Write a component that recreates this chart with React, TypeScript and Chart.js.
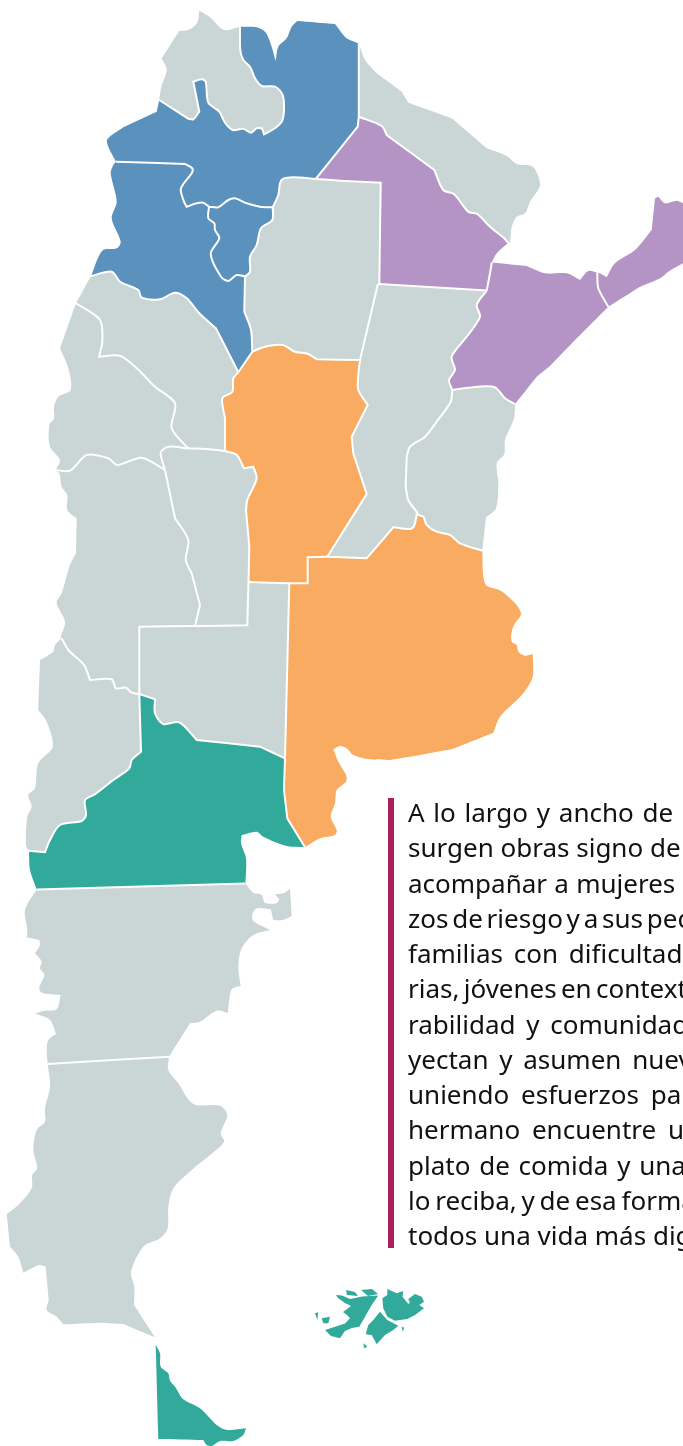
import React, { useEffect, useRef } from "react";
import { Chart, registerables } from "chart.js";

Chart.register(...registerables);

type P = [number, number];
const rev = (s: P[]): P[] => [...s].reverse();

const JUJUY_WEST: P[] = [[159.3,100],[161.3,86.7],[166.7,70],[161.7,58.3],[179.3,30.7],[188.3,30],[197.3,22.7],[199.3,10.7],[210,17.3],[224,30],[240,26.7]];
const JUJUY_SALTA: P[] = [[240,26.7],[240.3,50],[243.3,60],[250,66.7],[255,78.3],[261.7,86],[275,86.7],[282.7,95],[284,110],[281.7,121.7],[273.3,129.3],[264,134.3],[262,128.3],[256.7,128.3],[250.7,132.7],[243.3,128.7],[232.7,130],[225,122.7],[219.3,111.7],[208.3,102.7],[205.7,81.7],[201.7,79.3],[193.3,81.7],[199.3,111.7],[193.3,119.3],[188.3,118.7],[159.3,100]];
const SALTA_TOP: P[] = [[240,26.7],[256.7,27.3],[265,31.7],[270,41.7],[275.7,61],[278.3,46.7],[286.7,38.3],[291.7,26.7],[297.3,21],[335,24],[346.7,38.3],[358.5,43.3]];
const SALTA_FORMOSA: P[] = [[358.8,43.3],[358.8,80],[358.8,116.7]];
const SALTA_CHACO: P[] = [[358.8,116.7],[357.7,126.7],[315.7,179]];
const SALTA_SANTIAGO: P[] = [[315.7,179],[293.3,177.3],[282.7,179],[280,183.3],[278.3,195],[272.7,207.3]];
const SALTA_TUCUMAN: P[] = [[272.7,207.3],[260,206.7],[246.7,203.3],[235,198.3],[228.3,200],[218.3,207.3],[209,206.7]];
const SALTA_CATAMARCA: P[] = [[209,206.7],[203.3,202.7],[196.7,203.3],[186.7,206.7],[184,201.7],[180.7,190],[183.3,184],[191.7,173.3],[192.3,168.3],[185,164],[116,161.7]];
const SALTA_WEST: P[] = [[116,161.7],[108.3,146.7],[107.3,139.3],[123.3,127.3],[156.7,111.7],[159.3,100]];
const CATAMARCA_WEST: P[] = [[116,161.7],[113.3,165],[110.7,173.3],[116.7,201.7],[111.7,218.3],[120.7,241.7],[116.7,248.3],[102.3,250.7],[91,276]];
const CATAMARCA_RIOJA: P[] = [[91,276],[111.7,271.7],[120,281.7],[138.3,290],[141.7,297.7],[160,299.3],[175,292.7],[186.7,298.3],[199.3,313.3],[216,328.3],[238.3,372.3]];
const CORDOBA_CATAMARCA: P[] = [[238.3,372.3],[252.3,351.7]];
const CATAMARCA_SANTIAGO: P[] = [[252.3,351.7],[251,330],[244.3,311.7],[245,276.5]];
const CATAMARCA_TUCUMAN: P[] = [[245,276.5],[236.7,275],[228.3,281],[221,276.7],[210.7,254],[219.3,238.3],[215,230],[214.3,223.3],[208.3,218.3],[209,206.7]];
const TUCUMAN_SANTIAGO: P[] = [[245,276.5],[250,271.7],[250,256.7],[256.7,245],[261,228.3],[272.3,220],[272.7,207.3]];
const SANTIAGO_CHACO: P[] = [[315.7,179],[340,180.7],[380.7,182.7],[379.3,284]];
const SANTIAGO_SANTAFE: P[] = [[379.3,284],[377.7,285],[360,360]];
const SANTIAGO_CORDOBA: P[] = [[360,360],[316.7,359.3],[308.3,354],[295,351.7],[282.7,345],[265,346.7],[252.3,351.7]];
const CHACO_FORMOSA: P[] = [[358.8,116.7],[381.7,126],[386.7,135],[434.3,170],[443.3,190],[454,194],[468.3,211.7],[477.3,214],[490,226.7],[505,239],[508,243]];
const FORMOSA_OUTER: P[] = [[358.8,43.3],[365,60],[376.7,73.3],[401.7,91.7],[408.3,102.7],[451.7,118.3],[486.7,148.3],[506.7,156],[516.7,164],[532.7,166.7],[540,185],[530,201.7],[525,213.3],[516.7,216.7],[511.7,226.7],[510,241.7]];
const CHACO_OUTER: P[] = [[508,243],[496.7,253.3],[491.7,262.7]];
const CHACO_CORRIENTES: P[] = [[491.7,262.7],[490,273.3],[486.7,290.5]];
const CHACO_SANTAFE: P[] = [[486.7,290.5],[379.3,284]];
const CORRIENTES_NORTH: P[] = [[491.7,262.7],[495,262.7],[526.7,266],[545,273.3],[566.7,273.3],[580,280],[588.3,271],[597.3,272.7]];
const CORRIENTES_MISIONES: P[] = [[597.3,272.7],[598.3,288.3],[608.3,306.7]];
const CORRIENTES_COAST: P[] = [[608.3,306.7],[576.7,338.3],[550,366],[536.7,376.7],[515,404]];
const CORRIENTES_ENTRERIOS: P[] = [[515,404],[505,398.3],[495,387.3],[478.3,386.7],[452.3,390]];
const CORRIENTES_SANTAFE: P[] = [[452.3,390],[449,380],[455,370],[451.7,356.7],[466.7,336.7],[480,316.7],[476.7,305],[486.7,290.5]];
const MISIONES_OUTER: P[] = [[597.3,272.7],[600,273.3],[606.7,277.3],[615,263.3],[635,250],[651.7,230],[655,198.3],[658.3,196.7],[665,203.3],[676.7,200.7],[683,203.3],[683,263.3],[668.3,271.7],[660,278.3],[640,286.7],[608.3,306.7]];
const SANTAFE_ENTRERIOS: P[] = [[452.3,390],[450.7,401.7],[436.7,421.7],[425,436.7],[410,446.7],[406.7,456.7],[405.7,486.7],[408.3,500],[416.7,511.7]];
const SANTAFE_BA: P[] = [[416.7,511.7],[416.7,515],[414,526],[410,529],[393.3,527.3],[366.7,558.3],[327.3,556.7]];
const SANTAFE_CORDOBA: P[] = [[327.3,556.7],[366.7,494],[353.3,453.3],[351.7,436.7],[367.7,405],[358.3,390],[358.3,375],[360,360]];
const ENTRERIOS_COAST: P[] = [[515,404],[514,418.3],[505,440],[504.3,454],[496.7,463.3],[498.3,483.3],[496,508.3],[486,517.3],[482.3,550.7]];
const ENTRERIOS_BA: P[] = [[482.3,550.7],[460,543.3],[450,535],[436.7,531.7],[426.7,525],[423.3,516.7],[418.3,515],[416.7,511.7]];
const CORDOBA_BA: P[] = [[327.3,556.7],[307.7,557.3],[307.7,583.3],[289.3,583.3]];
const CORDOBA_PAMPA: P[] = [[289.3,583.3],[248.5,582]];
const SANLUIS_CORDOBA: P[] = [[225,451],[236.7,455],[244,468.3],[253.3,466.7],[256.7,478.3],[247.3,500],[246,510],[249.3,546.7],[248.5,582]];
const RIOJA_CORDOBA: P[] = [[238.3,372.3],[233.3,378.3],[232.3,391.7],[222.3,398.3],[225,418.3],[225,451]];
const RIOJA_SANLUIS: P[] = [[225,451],[206.7,449],[188.3,448.5]];
const RIOJA_SANJUAN: P[] = [[76,303.3],[100,320],[102.3,341.7],[99,356.7],[120,355.7],[136.7,368.3],[155,386.7],[175,403.3],[171.7,428.3],[188.3,448.5]];
const RIOJA_WEST: P[] = [[76,303.3],[91,276]];
const SANJUAN_OUTER: P[] = [[76,303.3],[70,320],[60,348.3],[68.3,368.3],[70.7,390],[58.3,396.7],[54,406.7],[54,418.3],[49.3,425],[50,446.7],[60,460],[55.7,470]];
const SANJUAN_MENDOZA: P[] = [[55.7,470],[70,470.7],[86.7,455],[108.3,458.3],[117.3,465],[141.7,457.7],[165,470]];
const SANJUAN_SANLUIS: P[] = [[165,470],[160.7,452.7],[168.3,446.7],[188.3,448.5]];
const SANLUIS_PAMPA: P[] = [[248.5,582],[247.3,625.3],[195,626]];
const SANLUIS_MENDOZA: P[] = [[195,626],[200,605],[191.7,573.3],[185.7,560],[188.3,540],[175,518.3],[165,470]];
const PAMPA_BA: P[] = [[289.3,583.3],[285,758.3]];
const PAMPA_RIONEGRO: P[] = [[139.3,694],[155,699.3],[155,713.3],[163.3,724],[179.3,722.3],[196.7,740],[260,746.7],[285,758.3]];
const PAMPA_MENDOZA: P[] = [[139.3,694],[139.3,626.7],[195,626]];
const MENDOZA_OUTER: P[] = [[55.7,470],[59.3,473.3],[61.7,486.7],[67.3,495],[67.3,510],[76.7,518.3],[76,553.3],[70,565],[61.7,593.3],[56.7,602.7],[65,621.7],[60.7,637.3],[61.7,638.3]];
const MENDOZA_NEUQUEN: P[] = [[61.7,638.3],[68.3,650],[84,665],[90,680],[111.7,679.3],[116,688.3],[126,687.7],[131.7,692.7],[139.3,694]];
const NEUQUEN_OUTER: P[] = [[61.7,638.3],[55,645],[53.3,651.7],[40,660],[38.3,710],[46.7,721.7],[52.7,746.7],[38.3,763.3],[35,788.3],[28.3,795],[31.7,806.7],[27.3,816.7],[26,845],[29,850.7]];
const NEUQUEN_RIONEGRO: P[] = [[29,850.7],[45,852.3],[50,840],[60,825],[81.7,821],[86,815],[85,800],[95,794.3],[113.3,780],[129.3,768.3],[131.7,760],[141,751.7],[139.3,694]];
const BA_RIONEGRO: P[] = [[285,758.3],[284,790],[287.3,818.3],[305,847.3]];
const BA_COAST: P[] = [[305,847.3],[320,838.3],[335,835],[336.7,830],[330.7,816.7],[335,803.3],[336.7,790],[346,781.7],[346,775],[338.3,761.7],[333.3,749.3],[340,746],[346.7,748.3],[353.3,755],[370,759.3],[390,760],[420,755],[451.7,749.3],[493.3,732.7],[500,716.7],[513.3,703.3],[523.3,693.3],[532.7,676.7],[532.7,654],[525,655.7],[518.3,651.7],[516.7,645],[511.7,641.7],[511.7,631.7],[515,623.3],[521,614],[515.7,604],[500.7,590.7],[486.7,585.7],[483.3,576.7],[482.3,550.7]];
const RIONEGRO_COAST: P[] = [[305,847.3],[286.7,846],[263.3,836.7],[256.7,831.7],[241.7,835],[241,843.3],[246,858.3],[245.5,883.5]];
const RIONEGRO_CHUBUT: P[] = [[36.7,889.5],[245.5,883.5]];
const RIONEGRO_WEST: P[] = [[36.7,889.5],[30,870],[29,850.7]];
const CHUBUT_EAST: P[] = [[245.5,883.5],[253.3,892.7],[261.7,895],[265,902.7],[276.7,903.3],[279.3,899.3],[275,894.3],[285,892.7],[290,888.3],[291.7,916],[282.7,920],[273.3,920],[270.7,909.3],[256.7,908.3],[252.3,915],[253.3,921],[270,930],[253.3,935],[241.7,948.3],[238.3,966.7],[240.7,986],[231.7,989.3],[227.7,1012.7],[216.7,1010.7],[200,1021.7],[190,1023.3],[169,1056.7]];
const CHUBUT_SANTACRUZ: P[] = [[169,1056.7],[47.7,1064]];
const CHUBUT_WEST: P[] = [[47.7,1064],[46.7,1050],[48.3,1040],[56,1034],[50,1020],[35,1013.3],[45,1010.7],[56.7,1009.3],[60.7,995],[41.7,992.7],[39.3,987.3],[44.3,975],[40,968.3],[41.7,961.7],[35,953.3],[40,945],[39.3,940],[26.7,937.3],[27.3,930],[25,910],[36.7,889.5]];
const SANTACRUZ_OUTER: P[] = [[169,1056.7],[168.3,1070],[178.3,1083.3],[193.3,1104],[220,1105.7],[227.3,1115],[220.7,1133.3],[224,1141.7],[210,1155],[191.7,1170],[173.3,1188.3],[168.3,1206.7],[167.7,1228.3],[160,1238.3],[143.3,1246.7],[131,1271.7],[134.3,1286.7],[134,1305],[155,1337.3],[123.3,1324],[100,1322.7],[63.3,1324.3],[56.7,1316.7],[46.7,1310],[48.7,1300],[45.7,1266.7],[39.3,1265],[23.3,1272.7],[18.3,1256.7],[10,1246.7],[6.7,1214],[18.3,1205],[31.7,1188.3],[32.3,1175],[37.3,1168.3],[33.3,1150],[36.7,1130],[45,1121.7],[45,1108.3],[50,1086.7],[47.7,1064]];
const TIERRA_DEL_FUEGO: P[] = [[155.7,1345],[160,1353.3],[160.7,1366.7],[168.3,1373.3],[170,1380.7],[175,1386.7],[183.3,1399.3],[200,1408.3],[216.7,1425],[226.7,1430],[246,1428.3],[243.3,1435],[233.3,1441],[220,1441],[211.7,1446],[206.7,1445],[203.3,1440],[158.3,1439]];
const MALVINAS_WEST: P[] = [[336,1295],[342,1295.5],[350,1299],[355,1298],[362,1296.5],[378.3,1295.5],[371.7,1305],[365,1316.7],[359.3,1326.7],[352,1328],[345,1331],[340,1338.3],[331,1336],[325,1330],[338.3,1325.7],[345,1323.5],[350,1318.3],[347,1315],[343,1312],[351,1306],[345,1303],[338,1298]];
const MALVINAS_EAST_N: P[] = [[382.3,1298.3],[387.3,1295],[387.3,1289],[396.7,1293.3],[403.3,1291],[402.5,1296.7],[408.3,1304],[410,1302.5],[408.3,1299],[415,1294],[421.7,1296.7],[424,1301.7],[419.3,1305],[424,1308.3],[415,1315],[407.3,1319],[395,1320.7],[387.3,1316.7],[383.3,1308.3]];
const MALVINAS_EAST_S: P[] = [[380,1311.7],[387.3,1320],[398.3,1325.7],[393.3,1330],[385,1335],[376.7,1344.3],[371.7,1335],[365.7,1334.3],[368.3,1325],[373.3,1320]];
const MALVINAS_SMALL: P[][] = [
  [[321.7,1318.3],[330,1316.7],[328.3,1323.3],[323.3,1323.3]],
  [[315,1313.3],[318.3,1312.3],[317.3,1320]],
  [[346,1290],[355,1292],[358,1296],[347,1295]],
  [[361,1290],[372,1289],[378,1294],[368,1296]],
  [[363.3,1343.3],[367.3,1346.7],[364,1348.3]],
  [[401.7,1326.7],[404.3,1327.7],[402.7,1331.7]],
];

const GREY = "#c9d6d5";
const BLUE = "#5b91bd";
const PURPLE = "#b494c5";
const ORANGE = "#f8ab61";
const TEAL = "#31a99b";

const provinces: [string, string, P[]][] = [
  ["Jujuy", GREY, [...JUJUY_WEST, ...JUJUY_SALTA]],
  ["Salta", BLUE, [...SALTA_TOP, ...SALTA_FORMOSA, ...SALTA_CHACO, ...SALTA_SANTIAGO, ...SALTA_TUCUMAN, ...SALTA_CATAMARCA, ...SALTA_WEST, ...rev(JUJUY_SALTA)]],
  ["Formosa", GREY, [...FORMOSA_OUTER, ...rev(CHACO_FORMOSA), ...rev(SALTA_FORMOSA)]],
  ["Chaco", PURPLE, [...CHACO_FORMOSA, ...CHACO_OUTER, ...CHACO_CORRIENTES, ...CHACO_SANTAFE, ...rev(SANTIAGO_CHACO), ...rev(SALTA_CHACO)]],
  ["Misiones", PURPLE, [...MISIONES_OUTER, ...rev(CORRIENTES_MISIONES)]],
  ["Corrientes", PURPLE, [...CORRIENTES_NORTH, ...CORRIENTES_MISIONES, ...CORRIENTES_COAST, ...CORRIENTES_ENTRERIOS, ...CORRIENTES_SANTAFE, ...rev(CHACO_CORRIENTES)]],
  ["Catamarca", BLUE, [...CATAMARCA_WEST, ...CATAMARCA_RIOJA, ...CORDOBA_CATAMARCA, ...CATAMARCA_SANTIAGO, ...CATAMARCA_TUCUMAN, ...SALTA_CATAMARCA]],
  ["Tucumán", BLUE, [...SALTA_TUCUMAN, ...rev(CATAMARCA_TUCUMAN), ...TUCUMAN_SANTIAGO]],
  ["Santiago del Estero", GREY, [...SANTIAGO_CHACO, ...SANTIAGO_SANTAFE, ...SANTIAGO_CORDOBA, ...CATAMARCA_SANTIAGO, ...TUCUMAN_SANTIAGO, ...rev(SALTA_SANTIAGO)]],
  ["Santa Fe", GREY, [...rev(CHACO_SANTAFE), ...rev(CORRIENTES_SANTAFE), ...SANTAFE_ENTRERIOS, ...SANTAFE_BA, ...SANTAFE_CORDOBA, ...rev(SANTIAGO_SANTAFE)]],
  ["Entre Ríos", GREY, [...rev(CORRIENTES_ENTRERIOS), ...ENTRERIOS_COAST, ...ENTRERIOS_BA, ...rev(SANTAFE_ENTRERIOS)]],
  ["Córdoba", ORANGE, [...CORDOBA_CATAMARCA, ...rev(SANTIAGO_CORDOBA), ...rev(SANTAFE_CORDOBA), ...CORDOBA_BA, ...CORDOBA_PAMPA, ...rev(SANLUIS_CORDOBA), ...rev(RIOJA_CORDOBA)]],
  ["La Rioja", GREY, [...CATAMARCA_RIOJA, ...RIOJA_CORDOBA, ...RIOJA_SANLUIS, ...rev(RIOJA_SANJUAN), ...RIOJA_WEST]],
  ["San Juan", GREY, [...RIOJA_SANJUAN, ...rev(SANJUAN_SANLUIS), ...rev(SANJUAN_MENDOZA), ...rev(SANJUAN_OUTER)]],
  ["San Luis", GREY, [...SANJUAN_SANLUIS, ...rev(RIOJA_SANLUIS), ...SANLUIS_CORDOBA, ...SANLUIS_PAMPA, ...SANLUIS_MENDOZA]],
  ["La Pampa", GREY, [...rev(CORDOBA_PAMPA), ...PAMPA_BA, ...rev(PAMPA_RIONEGRO), ...PAMPA_MENDOZA, ...rev(SANLUIS_PAMPA)]],
  ["Mendoza", GREY, [...SANJUAN_MENDOZA, ...rev(SANLUIS_MENDOZA), ...rev(PAMPA_MENDOZA), ...rev(MENDOZA_NEUQUEN), ...rev(MENDOZA_OUTER)]],
  ["Neuquén", GREY, [...MENDOZA_NEUQUEN, ...rev(NEUQUEN_RIONEGRO), ...rev(NEUQUEN_OUTER)]],
  ["Río Negro", TEAL, [...NEUQUEN_RIONEGRO, ...PAMPA_RIONEGRO, ...BA_RIONEGRO, ...RIONEGRO_COAST, ...rev(RIONEGRO_CHUBUT), ...RIONEGRO_WEST]],
  ["Buenos Aires", ORANGE, [...ENTRERIOS_BA, ...SANTAFE_BA, ...CORDOBA_BA, ...PAMPA_BA, ...BA_RIONEGRO, ...BA_COAST]],
  ["Chubut", GREY, [...RIONEGRO_CHUBUT, ...CHUBUT_EAST, ...CHUBUT_SANTACRUZ, ...CHUBUT_WEST]],
  ["Santa Cruz", GREY, [...rev(CHUBUT_SANTACRUZ), ...SANTACRUZ_OUTER]],
  ["Tierra del Fuego", TEAL, TIERRA_DEL_FUEGO],
];

const malvinas: P[][] = [MALVINAS_WEST, MALVINAS_EAST_N, MALVINAS_EAST_S, ...MALVINAS_SMALL];

const interiorBorders: P[][] = [
  JUJUY_SALTA, SALTA_FORMOSA, SALTA_CHACO, SALTA_SANTIAGO, SALTA_TUCUMAN, SALTA_CATAMARCA,
  CATAMARCA_RIOJA, CORDOBA_CATAMARCA, CATAMARCA_SANTIAGO, CATAMARCA_TUCUMAN, TUCUMAN_SANTIAGO,
  SANTIAGO_CHACO, SANTIAGO_SANTAFE, SANTIAGO_CORDOBA, CHACO_FORMOSA, CHACO_CORRIENTES, CHACO_SANTAFE,
  CORRIENTES_MISIONES, CORRIENTES_ENTRERIOS, CORRIENTES_SANTAFE, SANTAFE_ENTRERIOS, SANTAFE_BA, SANTAFE_CORDOBA,
  ENTRERIOS_BA, CORDOBA_BA, CORDOBA_PAMPA, SANLUIS_CORDOBA, RIOJA_CORDOBA, RIOJA_SANLUIS, RIOJA_SANJUAN,
  SANJUAN_MENDOZA, SANJUAN_SANLUIS, SANLUIS_PAMPA, SANLUIS_MENDOZA, PAMPA_BA, PAMPA_RIONEGRO, PAMPA_MENDOZA,
  MENDOZA_NEUQUEN, NEUQUEN_RIONEGRO, BA_RIONEGRO, RIONEGRO_CHUBUT, CHUBUT_SANTACRUZ,
];

const textLines = [
  "A lo largo y ancho de",
  "surgen obras signo de",
  "acompañar a mujeres",
  "zos de riesgo y a sus pequeños",
  "familias con dificultad",
  "rias, jóvenes en context",
  "rabilidad y comunidad",
  "yectan y asumen nuev",
  "uniendo esfuerzos pa",
  "hermano encuentre u",
  "plato de comida y una",
  "lo reciba, y de esa forma",
  "todos una vida más dig",
];
const wordGaps = [2, 0, 0.5, -3, 4, -2.5, 4, 4, 5, 5, 2, -2, 0];

// Keeps long straight borders straight: a vertex next to a long edge, or at a
// sharp turn, is repeated so that the curve does not round it off.
const toPts = (s: P[]) => {
  const out: { x: number; y: number }[] = [];
  s.forEach(([x, y], i) => {
    const prev = s[i - 1];
    const next = s[i + 1];
    let corner = false;
    if (prev && next) {
      const a = [x - prev[0], y - prev[1]];
      const b = [next[0] - x, next[1] - y];
      const la = Math.hypot(a[0], a[1]);
      const lb = Math.hypot(b[0], b[1]);
      if (la > 30 || lb > 30) corner = true;
      else if (la > 0 && lb > 0 && (a[0] * b[0] + a[1] * b[1]) / (la * lb) < 0.35) corner = true;
    }
    out.push({ x, y });
    if (corner) out.push({ x, y });
  });
  return out;
};

export default function App() {
  const ref = useRef<HTMLCanvasElement>(null);
  useEffect(() => {
    const fills = [
      ...provinces.map(([label, color, s]) => ({ label, color, s, tension: 0.3 })),
      ...malvinas.map((s) => ({ label: "Malvinas", color: TEAL, s, tension: 0 })),
    ];
    const chart = new Chart(ref.current as HTMLCanvasElement, {
      type: "scatter",
      data: {
        datasets: [
          ...fills.map((f) => ({
            label: f.label,
            data: toPts([...f.s, f.s[0]]),
            showLine: true,
            fill: "shape",
            backgroundColor: f.color,
            borderColor: f.color,
            borderWidth: 0,
            pointRadius: 0,
            tension: f.tension,
            order: 2,
          })),
          ...interiorBorders.map((s) => ({
            label: "borde",
            data: toPts(s),
            showLine: true,
            fill: false,
            borderColor: "#ffffff",
            borderWidth: 2,
            pointRadius: 0,
            tension: 0.3,
            order: 1,
          })),
        ],
      } as any,
      options: {
        responsive: false,
        animation: false,
        events: [],
        layout: { padding: 0 },
        plugins: { legend: { display: false }, tooltip: { enabled: false } },
        scales: {
          x: { type: "linear", min: 0, max: 683, display: false },
          y: { type: "linear", min: 0, max: 1446, reverse: true, display: false },
        },
      },
    });
    return () => chart.destroy();
  }, []);
  return (
    <div style={{ position: "absolute", left: 0, top: 0, width: 683, height: 1446, overflow: "hidden", background: "#fff" }}>
      <canvas ref={ref} width={683} height={1446} style={{ display: "block" }} />
      <div style={{ position: "absolute", left: 388, top: 798, width: 6, height: 450, background: "#ad1f5c" }} />
      {textLines.map((t, i) => (
        <div
          key={i}
          style={{
            position: "absolute",
            left: 408,
            top: 795 + i * 35.25,
            lineHeight: "35px",
            fontFamily: "'Noto Sans'",
            fontSize: 26,
            color: "#111",
            whiteSpace: "nowrap",
            wordSpacing: wordGaps[i],
          }}
        >
          {t}
        </div>
      ))}
    </div>
  );
}
